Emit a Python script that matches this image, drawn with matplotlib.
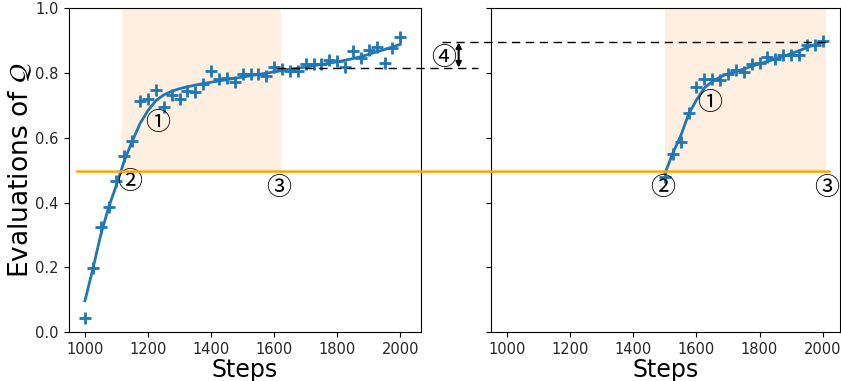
import numpy as np
import matplotlib.pyplot as plt
from matplotlib.patches import ConnectionPatch

# data
steps_left = np.arange(1000, 2001, 25)
evals_left = [0.043, 0.198, 0.324, 0.386, 0.468, 0.545, 0.589, 0.713, 0.721, 0.749,
              0.697, 0.731, 0.721, 0.746, 0.743, 0.765, 0.808, 0.781, 0.785, 0.772,
              0.796, 0.796, 0.798, 0.790, 0.819, 0.813, 0.806, 0.808, 0.827, 0.829,
              0.829, 0.841, 0.836, 0.819, 0.868, 0.847, 0.870, 0.882, 0.832, 0.877,
              0.913]
fit_left = [0.097, 0.195, 0.300, 0.385, 0.455, 0.530, 0.590, 0.645, 0.685, 0.715,
            0.733, 0.744, 0.752, 0.758, 0.763, 0.768, 0.772, 0.776, 0.780, 0.784,
            0.788, 0.792, 0.796, 0.800, 0.804, 0.808, 0.812, 0.815, 0.819, 0.823,
            0.827, 0.831, 0.835, 0.840, 0.845, 0.851, 0.858, 0.866, 0.873, 0.881,
            0.889]

steps_right = np.arange(1500, 2001, 25)
evals_right = [0.478, 0.550, 0.588, 0.678, 0.757, 0.783, 0.783, 0.779, 0.797, 0.810,
               0.805, 0.828, 0.831, 0.850, 0.844, 0.855, 0.857, 0.857, 0.888, 0.886,
               0.898]
fit_right = [0.490, 0.553, 0.606, 0.673, 0.717, 0.754, 0.774, 0.788, 0.798, 0.805,
             0.813, 0.821, 0.829, 0.836, 0.844, 0.852, 0.860, 0.869, 0.879, 0.888,
             0.896]

threshold = 0.496
level_a = 0.817
level_b = 0.895
span_left = (1117, 1621)
span_right = (1500, 2010)

circ = ['Noto Sans CJK JP', 'DejaVu Sans']
csize = 18

fig = plt.figure(figsize=(8.41, 3.81), dpi=100)
ax1 = fig.add_axes([0.0815, 0.128, 0.4185, 0.850])
ax2 = fig.add_axes([0.5835, 0.128, 0.4153, 0.850])

for ax, span, xs, ys, fit in [(ax1, span_left, steps_left, evals_left, fit_left),
                              (ax2, span_right, steps_right, evals_right, fit_right)]:
    ax.axvspan(span[0], span[1], ymin=threshold, ymax=1, color='C1', alpha=0.12, lw=0)
    ax.plot(xs, fit, color='C0', lw=2)
    ax.plot(xs, ys, ls='none', marker='+', ms=9, mew=2, color='C0')
    ax.set_ylim(0, 1)
    ax.set_yticks(np.arange(0, 1.01, 0.2))
    ax.set_xticks(np.arange(1000, 2001, 200))
    ax.tick_params(labelsize=10.5, labelcolor='#262626')
    ax.set_xlabel('Steps', fontsize=17, labelpad=1)

ax1.set_xlim(948, 2064)
ax2.set_xlim(948, 2055)
ax2.set_yticklabels([])
ax1.set_ylabel(r'Evaluations of $\mathcal{Q}$', fontsize=19, labelpad=1)

# threshold line running across both panels
line = ConnectionPatch(xyA=(975, threshold), coordsA=ax1.transData,
                       xyB=(2023, threshold), coordsB=ax2.transData,
                       color='orange', lw=1.8, zorder=5)
fig.add_artist(line)

# dashed reference levels
ax1.plot([1608, 2245], [level_a, level_a], ls='--', dashes=(6, 4), color='k', lw=1, clip_on=False)
ax2.plot([794, 2010], [level_b, level_b], ls='--', dashes=(6, 4), color='k', lw=1, clip_on=False)
ax1.annotate('', xy=(2185, level_a), xytext=(2185, level_b), annotation_clip=False,
             arrowprops=dict(arrowstyle='<|-|>', color='k', lw=1.5, mutation_scale=8,
                             shrinkA=0, shrinkB=0))

ax1.text(2137, 0.847, '④', fontsize=csize, family=circ, ha='center', va='center', clip_on=False)
ax1.text(1231, 0.646, '①', fontsize=csize, family=circ, ha='center', va='center')
ax1.text(1143, 0.464, '②', fontsize=csize, family=circ, ha='center', va='center')
ax1.text(1614, 0.445, '③', fontsize=csize, family=circ, ha='center', va='center')
ax2.text(1643, 0.708, '①', fontsize=csize, family=circ, ha='center', va='center')
ax2.text(1494, 0.445, '②', fontsize=csize, family=circ, ha='center', va='center')
ax2.text(2014, 0.445, '③', fontsize=csize, family=circ, ha='center', va='center')

plt.savefig('out.png', dpi=100)
